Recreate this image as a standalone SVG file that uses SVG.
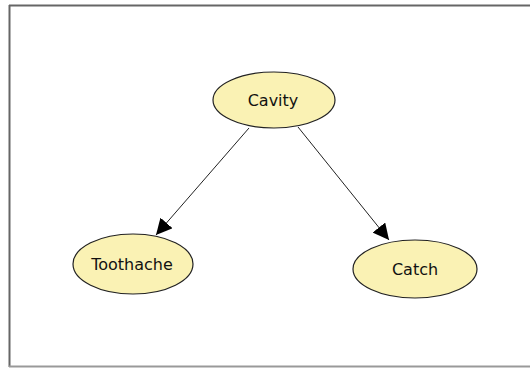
<svg xmlns="http://www.w3.org/2000/svg" width="530" height="368" viewBox="0 0 530 368">
  <style>
    .node ellipse { fill: #faf2b4; stroke: #222; stroke-width: 1.2; }
    .node text { font-family: "DejaVu Sans", Verdana, sans-serif; font-size: 16px; fill: #111; text-anchor: middle; dominant-baseline: central; }
    .edge { stroke: #222; stroke-width: 1; fill: none; marker-end: url(#arrow); }
  </style>
  <defs>
    <marker id="arrow" viewBox="0 0 10 10" refX="10" refY="5" markerWidth="16" markerHeight="16" markerUnits="userSpaceOnUse" orient="auto">
      <path d="M0,0 L10,5 L0,10 z" fill="#000"/>
    </marker>
  </defs>
  <rect width="530" height="368" fill="#fff"/>
  <!-- frame -->
  <g id="frame" stroke-width="2">
    <line x1="9" y1="5.5" x2="530" y2="5.5" stroke="#666"/>
    <line x1="9.5" y1="5" x2="9.5" y2="367" stroke="#666"/>
    <line x1="9" y1="366.5" x2="530" y2="366.5" stroke="#999"/>
  </g>
  <g id="connectors">
    <line class="edge" x1="249" y1="128" x2="156" y2="235"/>
    <line class="edge" x1="298" y1="127" x2="389" y2="240"/>
  </g>
  <g id="cavity" class="node">
    <ellipse cx="274" cy="100" rx="61" ry="28"/>
    <text x="273" y="100">Cavity</text>
  </g>
  <g id="toothache" class="node">
    <ellipse cx="133" cy="264" rx="60" ry="30"/>
    <text x="132" y="264">Toothache</text>
  </g>
  <g id="catch" class="node">
    <ellipse cx="415" cy="269" rx="62" ry="29"/>
    <text x="415" y="269">Catch</text>
  </g>
</svg>
